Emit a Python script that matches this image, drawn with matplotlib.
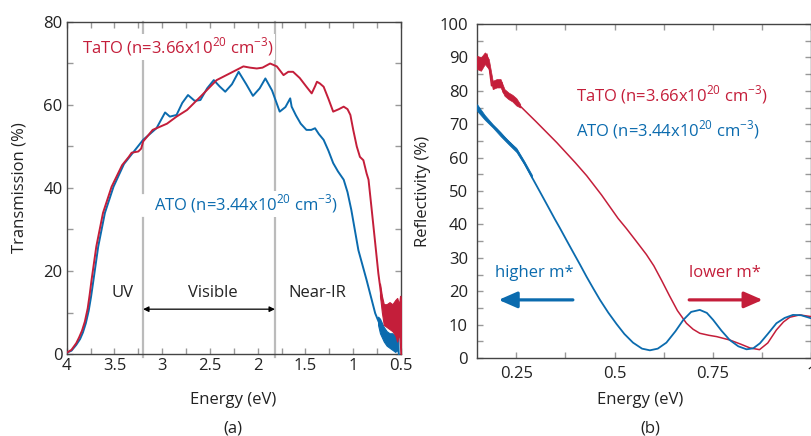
import numpy as np
import matplotlib
matplotlib.use("Agg")
import matplotlib.pyplot as plt
from matplotlib.ticker import MultipleLocator, FormatStrFormatter

plt.rcParams["font.family"] = ["Open Sans", "DejaVu Sans"]
plt.rcParams["mathtext.fontset"] = "custom"
plt.rcParams["mathtext.rm"] = "Open Sans"
plt.rcParams["font.size"] = 12

RED = "#C41E3A"
BLUE = "#0B6BAE"

# (a) Transmission, TaTO
e_tato = [4.00, 3.95, 3.90, 3.87, 3.84, 3.81, 3.78, 3.76, 3.74, 3.69, 3.62, 3.53,
          3.42, 3.35, 3.32, 3.25, 3.22, 3.20, 3.10, 2.95, 2.85, 2.74, 2.60, 2.43,
          2.26, 2.15, 2.08, 2.01, 1.95, 1.87, 1.80, 1.73, 1.68, 1.63, 1.56, 1.49,
          1.435, 1.40, 1.38, 1.35, 1.31, 1.26, 1.21, 1.15, 1.10, 1.06, 1.03, 1.00,
          0.963, 0.93, 0.894, 0.86, 0.84, 0.81, 0.77, 0.737, 0.70]
t_tato = [0.3, 1.0, 2.6, 4.0, 5.6, 7.8, 11.0, 14.2, 17.8, 25.9, 34.0, 40.3,
          45.5, 47.5, 48.5, 48.8, 49.5, 51.2, 54.0, 55.5, 57.2, 58.8, 62.0, 66.0,
          68.0, 69.3, 69.0, 68.8, 69.0, 70.0, 69.3, 67.2, 68.0, 68.0, 66.5, 64.4,
          62.8, 64.5, 65.6, 65.2, 64.4, 61.5, 58.4, 59.0, 59.6, 59.0, 57.6, 54.0,
          50.0, 47.5, 46.7, 43.5, 42.0, 35.5, 26.7, 19.4, 13.0]
# noisy tail of TaTO (band)
e_tato_tail = [0.72, 0.70, 0.68, 0.65, 0.62, 0.59, 0.56, 0.54, 0.52, 0.51, 0.505, 0.50]
lo_tato_tail = [14.0, 10.0, 7.0, 6.5, 6.0, 5.5, 4.5, 3.0, 5.0, 2.0, 0.0, 0.0]
hi_tato_tail = [17.0, 14.0, 12.0, 12.0, 12.5, 12.0, 13.0, 13.5, 12.0, 14.0, 14.0, 13.0]

# (a) Transmission, ATO
e_ato = [4.00, 3.95, 3.90, 3.86, 3.83, 3.80, 3.77, 3.745, 3.72, 3.67, 3.60, 3.51,
         3.40, 3.30, 3.20, 3.06, 2.97, 2.92, 2.85, 2.79, 2.73, 2.66, 2.60, 2.53,
         2.46, 2.40, 2.34, 2.27, 2.20, 2.12, 2.05, 1.98, 1.92, 1.85, 1.77, 1.71,
         1.66, 1.645, 1.60, 1.55, 1.49, 1.44, 1.40, 1.36, 1.31, 1.26, 1.21, 1.16,
         1.10, 1.06, 1.02, 0.946, 0.86, 0.77, 0.72]
t_ato = [0.3, 0.8, 2.2, 3.6, 5.2, 7.4, 10.4, 13.8, 17.8, 25.9, 34.0, 40.3,
         45.8, 48.7, 51.6, 54.4, 58.2, 57.2, 57.6, 60.5, 62.4, 61.0, 61.2, 64.0,
         66.0, 64.5, 63.2, 65.0, 68.0, 65.0, 62.2, 64.0, 66.4, 63.5, 58.4, 59.5,
         61.6, 59.6, 57.5, 55.5, 54.0, 54.0, 54.4, 53.0, 51.6, 49.0, 46.0, 44.0,
         42.0, 39.0, 34.7, 25.0, 17.8, 9.8, 7.0]
e_ato_tail = [0.74, 0.72, 0.70, 0.68, 0.65, 0.62, 0.59, 0.56, 0.54, 0.53, 0.525]
lo_ato_tail = [7.0, 5.0, 4.0, 3.0, 2.0, 1.5, 1.0, 0.5, 1.0, 0.0, 0.0]
hi_ato_tail = [9.0, 8.5, 7.5, 6.5, 5.5, 5.0, 5.0, 4.5, 6.0, 6.0, 0.0]

# (b) Reflectivity, TaTO
e_r_tato = [0.15, 0.155, 0.16, 0.165, 0.17, 0.175, 0.18, 0.187, 0.195, 0.205, 0.213,
            0.217, 0.225, 0.235, 0.245, 0.255, 0.30, 0.353, 0.40, 0.429, 0.467, 0.509,
            0.53, 0.555, 0.581, 0.60, 0.62, 0.64, 0.66, 0.683, 0.70, 0.717, 0.74, 0.76,
            0.793, 0.82, 0.845, 0.869, 0.89, 0.912, 0.93, 0.946, 0.971, 1.0]
r_tato = [89, 87, 89, 88, 90, 91, 88, 81.5, 82, 82, 82.5,
          79.5, 79, 78, 77, 76, 70.8, 64.5, 58.5, 54.6, 48.8, 41.8,
          38.8, 35.0, 31.0, 27.6, 23.2, 18.6, 14.2, 10.4, 8.6, 7.4, 6.8, 6.4,
          5.4, 4.2, 3.0, 2.5, 4.5, 8.4, 10.8, 12.2, 12.9, 12.4]
e_r_tato_noise = [0.15, 0.16, 0.17, 0.18, 0.19, 0.20, 0.21, 0.22, 0.23, 0.24, 0.25, 0.26]
lo_r_tato_noise = [86.5, 86.0, 88.0, 86.5, 80.5, 81.0, 81.0, 78.5, 77.5, 76.8, 75.6, 75.0]
hi_r_tato_noise = [90.5, 90.0, 91.5, 89.5, 83.0, 83.5, 83.5, 80.5, 79.5, 78.8, 77.8, 76.0]

# (b) Reflectivity, ATO
e_r_ato = [0.15, 0.16, 0.17, 0.183, 0.20, 0.217, 0.235, 0.251, 0.27, 0.289, 0.31,
           0.33, 0.348, 0.361, 0.38, 0.395, 0.412, 0.429, 0.446, 0.463, 0.484, 0.505,
           0.525, 0.547, 0.57, 0.59, 0.61, 0.632, 0.655, 0.675, 0.695, 0.717, 0.735,
           0.751, 0.772, 0.793, 0.815, 0.836, 0.853, 0.87, 0.89, 0.912, 0.933, 0.954,
           0.975, 1.0]
r_ato = [75, 73.5, 72, 70.3, 68.5, 66.3, 64.3, 62.3, 58.5, 54.3, 49.8,
         45.5, 41.6, 38.9, 34.8, 31.6, 28.0, 24.3, 20.8, 17.4, 13.6, 10.2,
         7.2, 4.6, 2.8, 2.3, 2.8, 4.6, 8.0, 11.4, 13.8, 14.4, 13.5,
         11.4, 8.2, 5.4, 3.5, 2.6, 2.9, 4.4, 7.2, 10.4, 12.0, 12.9,
         12.8, 11.9]
e_r_ato_noise = [0.15, 0.17, 0.19, 0.21, 0.23, 0.25, 0.27, 0.29]
lo_r_ato_noise = [74.0, 71.3, 69.0, 66.4, 64.0, 61.7, 58.0, 53.8]
hi_r_ato_noise = [76.0, 72.7, 70.0, 67.6, 65.0, 62.9, 59.0, 54.8]

LABEL_TATO = r"TaTO (n=3.66x10$^{20}$ cm$^{-3}$)"
LABEL_ATO = r"ATO (n=3.44x10$^{20}$ cm$^{-3}$)"

fig = plt.figure(figsize=(8.12, 4.36), dpi=100)
W, H = 812, 436


def box(l, r, t, b):
    return [l / W, 1 - b / H, (r - l) / W, (b - t) / H]


def style(ax):
    for s in ax.spines.values():
        s.set_color("#444444")
        s.set_linewidth(1.0)
    ax.tick_params(which="both", direction="in", top=True, right=True,
                   color="#999999", width=1.0, length=4.5, labelsize=12,
                   labelcolor="#222222")


# ---------- (a) ----------
ax1 = fig.add_axes(box(66.7, 401, 22, 354))
style(ax1)
ax1.tick_params(axis="y", pad=3)
ax1.tick_params(axis="x", pad=3)
ax1.set_xlim(4, 0.5)
ax1.set_ylim(0, 80)
ax1.xaxis.set_major_locator(MultipleLocator(0.5))
ax1.xaxis.set_minor_locator(MultipleLocator(0.25))
ax1.xaxis.set_major_formatter(FormatStrFormatter("%g"))
ax1.yaxis.set_major_locator(MultipleLocator(20))
ax1.yaxis.set_minor_locator(MultipleLocator(10))

# visible-range boundaries (left one is interrupted beside the ATO label)
ax1.plot([3.2, 3.2], [-0.8, 32.8], color="#BBBBBB", lw=1.6, clip_on=False, zorder=1)
ax1.plot([3.2, 3.2], [38.8, 80], color="#BBBBBB", lw=1.6, clip_on=False, zorder=1)
ax1.plot([1.82, 1.82], [-0.8, 80], color="#BBBBBB", lw=1.6, clip_on=False, zorder=1)

ax1.plot(e_ato, t_ato, color=BLUE, lw=1.4, zorder=3)
ax1.fill_between(e_ato_tail, lo_ato_tail, hi_ato_tail, color=BLUE, lw=0.8, zorder=3)
ax1.plot(e_tato, t_tato, color=RED, lw=1.4, zorder=4)
ax1.fill_between(e_tato_tail, lo_tato_tail, hi_tato_tail, color=RED, lw=0.8, zorder=4)

ax1.text(3.84, 74, LABEL_TATO, color=RED, fontsize=12, va="center", ha="left",
         zorder=5, bbox=dict(facecolor="white", edgecolor="none", pad=1))
ax1.text(3.09, 36.1, LABEL_ATO, color=BLUE, fontsize=12, va="center", ha="left",
         zorder=2, bbox=dict(facecolor="white", edgecolor="none", pad=1.5))
ax1.text(3.42, 14.7, "UV", fontsize=12, ha="center", va="center", color="#222222")
ax1.text(2.47, 14.7, "Visible", fontsize=12, ha="center", va="center", color="#222222")
ax1.text(1.38, 14.7, "Near-IR", fontsize=12, ha="center", va="center", color="#222222")
ax1.annotate("", xy=(3.2, 10.8), xytext=(1.82, 10.8),
             arrowprops=dict(arrowstyle="<|-|>", color="black", lw=0.9,
                             mutation_scale=8, shrinkA=0, shrinkB=0))

# ---------- (b) ----------
ax2 = fig.add_axes(box(477, 811, 24, 358))
style(ax2)
ax2.tick_params(axis="y", pad=6.5)
ax2.tick_params(axis="x", pad=6)
ax2.set_xlim(0.15, 1.0)
ax2.set_ylim(0, 100)
ax2.xaxis.set_major_locator(MultipleLocator(0.25))
ax2.xaxis.set_minor_locator(MultipleLocator(0.125))
ax2.xaxis.set_major_formatter(FormatStrFormatter("%g"))
ax2.yaxis.set_major_locator(MultipleLocator(10))
ax2.yaxis.set_minor_locator(MultipleLocator(5))

ax2.plot(e_r_tato, r_tato, color=RED, lw=1.1, zorder=3)
ax2.fill_between(e_r_tato_noise, lo_r_tato_noise, hi_r_tato_noise, color=RED, lw=0.5, zorder=3)
ax2.plot(e_r_ato, r_ato, color=BLUE, lw=1.3, zorder=4)
ax2.fill_between(e_r_ato_noise, lo_r_ato_noise, hi_r_ato_noise, color=BLUE, lw=0.5, zorder=4)

ax2.text(0.401, 78.7, LABEL_TATO, color=RED, fontsize=12, va="center", ha="left")
ax2.text(0.401, 68.5, LABEL_ATO, color=BLUE, fontsize=12, va="center", ha="left")
ax2.text(0.197, 25.5, "higher m*", color=BLUE, fontsize=12, va="center", ha="left")
ax2.text(0.69, 25.5, "lower m*", color=RED, fontsize=12, va="center", ha="left")
ax2.annotate("", xy=(0.205, 17.4), xytext=(0.394, 17.4),
             arrowprops=dict(arrowstyle="-|>,head_length=0.8,head_width=0.35",
                             color=BLUE, lw=2.3, mutation_scale=14,
                             shrinkA=0, shrinkB=0))
ax2.annotate("", xy=(0.877, 17.4), xytext=(0.69, 17.4),
             arrowprops=dict(arrowstyle="-|>,head_length=0.8,head_width=0.35",
                             color=RED, lw=2.3, mutation_scale=14,
                             shrinkA=0, shrinkB=0))

# axis labels and panel tags
fig.text(233 / W, 1 - 400 / H, "Energy (eV)", ha="center", va="center", fontsize=12, color="#222222")
fig.text(640 / W, 1 - 400 / H, "Energy (eV)", ha="center", va="center", fontsize=12, color="#222222")
fig.text(233 / W, 1 - 428 / H, "(a)", ha="center", va="center", fontsize=12, color="#222222")
fig.text(650 / W, 1 - 428 / H, "(b)", ha="center", va="center", fontsize=12, color="#222222")
fig.text(19.5 / W, 1 - 188 / H, "Transmission (%)", rotation=90, ha="center", va="center",
         fontsize=12, color="#222222")
fig.text(423 / W, 1 - 191 / H, "Reflectivity (%)", rotation=90, ha="center", va="center",
         fontsize=12, color="#222222")

fig.savefig("out.png", dpi=100)
